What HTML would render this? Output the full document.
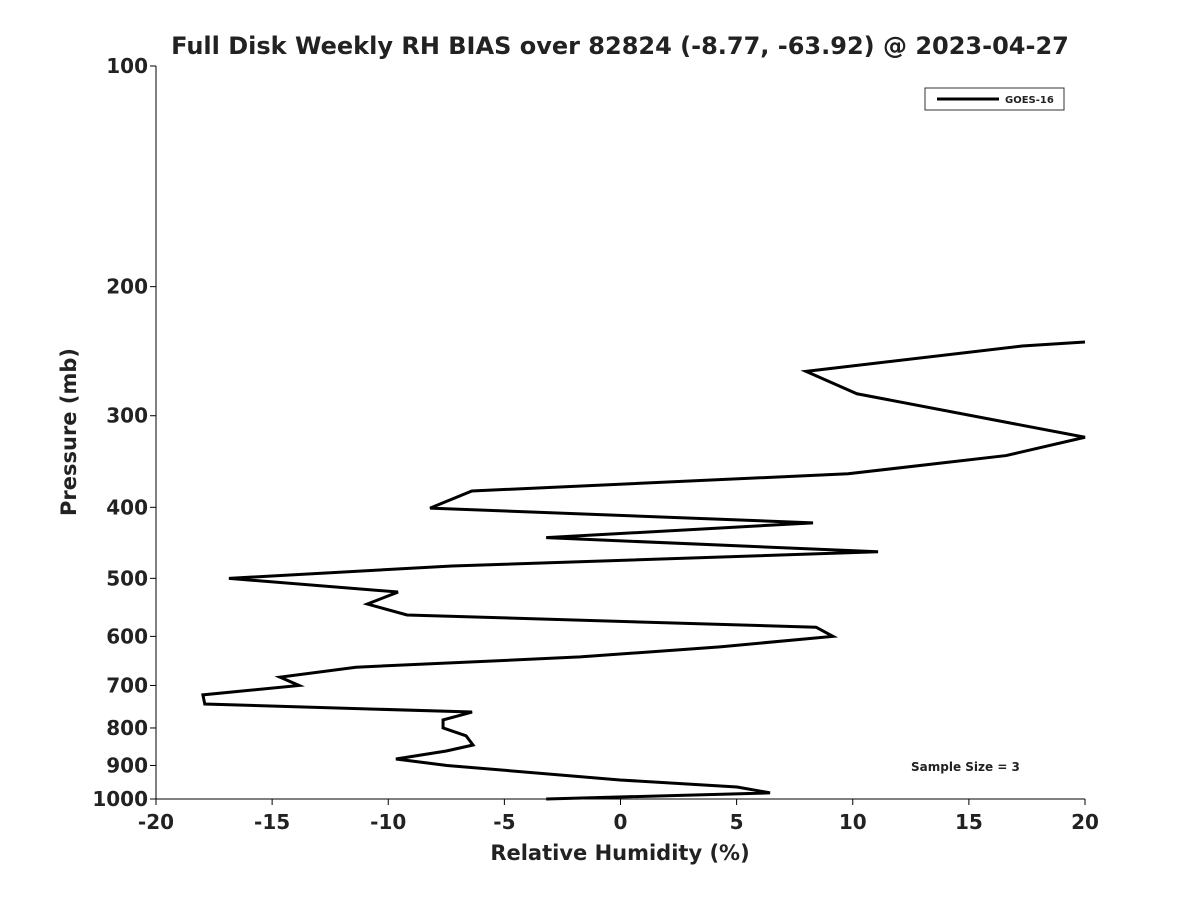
<!DOCTYPE html>
<html><head><meta charset="utf-8"><style>
body{margin:0;background:#fff;font-family:"DejaVu Sans","Liberation Sans",sans-serif;}
svg text{font-family:"DejaVu Sans","Liberation Sans",sans-serif;font-weight:bold;fill:#222;}
</style></head><body>
<svg id="chart" width="1200" height="900">
<text x="620" y="54" text-anchor="middle" font-size="24">Full Disk Weekly RH BIAS over 82824 (-8.77, -63.92) @ 2023-04-27</text>
<g id="axes"></g>
<text x="620" y="860" text-anchor="middle" font-size="21">Relative Humidity (%)</text>
<text transform="translate(76,432) rotate(-90)" text-anchor="middle" font-size="21">Pressure (mb)</text>
<g>
<rect x="925" y="88" width="139" height="22" fill="#fff" stroke="#333" stroke-width="1"/>
<line x1="937" y1="99" x2="999" y2="99" stroke="#000" stroke-width="3"/>
<text x="1005" y="103" font-size="10">GOES-16</text>
</g>
<text x="911" y="771" font-size="12">Sample Size = 3</text>
</svg>
<script>
const rhValues=[20,17.29,7.99,10.18,20,16.6,9.8,-6.4,-8.2,8.29,-3.2,11.09,-7.26,-16.86,-9.58,-10.9,-9.19,8.42,9.15,4.28,-1.74,-11.39,-14.66,-13.84,-17.98,-17.9,-6.39,-7.64,-7.64,-6.65,-6.35,-7.5,-9.67,-7.47,-0.02,5.02,6.44,-3.2];
const pressures=[238,241,261,280,321,340,360,380,401,420,440,460,481,500,522,542,561,583,600,620,640,661,682,700,721,742,761,780,800,820,844,860,882,900,942,963,981,1000];
const xTicks=[-20,-15,-10,-5,0,5,10,15,20];
const yTicks=[100,200,300,400,500,600,700,800,900,1000];
const L=156,R=1085,T=66,B=799;
const xs=v=>L+(v+20)/40*(R-L);
const ys=p=>T+Math.log10(p/100)*(B-T);
const NS="http://www.w3.org/2000/svg";
const g=document.getElementById('axes');
function mk(t,a,txt){const e=document.createElementNS(NS,t);for(const k in a)e.setAttribute(k,a[k]);if(txt!==undefined)e.textContent=txt;g.appendChild(e);return e;}
let e=mk('line',{x1:L,y1:T,x2:L,y2:B,stroke:'#000','stroke-width':1});


e=mk('line',{x1:L,y1:B,x2:R,y2:B,stroke:'#000','stroke-width':1});


xTicks.forEach(v=>{
 mk('line',{x1:xs(v),y1:B,x2:xs(v),y2:B+6,stroke:'#000'});
 const t=mk('text',{x:xs(v),y:B+30,'text-anchor':'middle','font-size':20},String(v));
 
 
});
yTicks.forEach(p=>{
 mk('line',{x1:L-6,y1:ys(p),x2:L,y2:ys(p),stroke:'#000'});
 const t=mk('text',{x:L-8,y:ys(p)+7,'text-anchor':'end','font-size':20},String(p));
 
 
});
const pl=mk('polyline',{points:rhValues.map((v,i)=>xs(v)+','+ys(pressures[i])).join(' '),fill:'none',stroke:'#000','stroke-width':3,'stroke-linejoin':'miter'});


</script>
</body></html>
